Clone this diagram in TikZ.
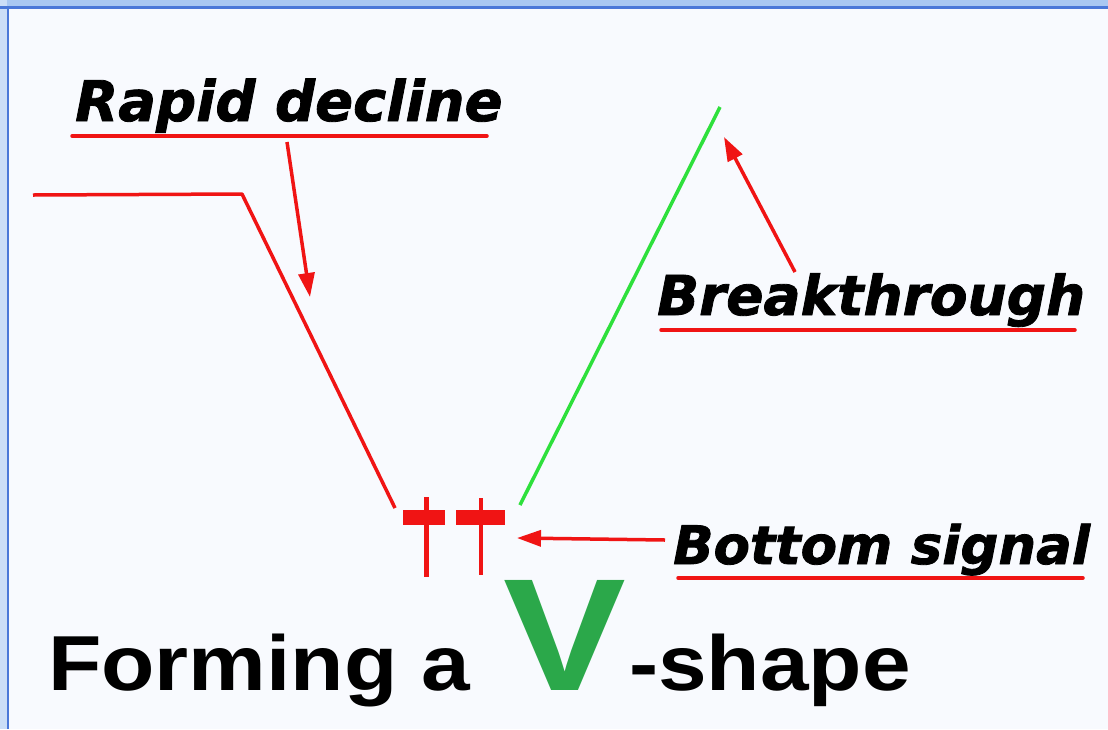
\documentclass[tikz,border=0pt]{standalone}
\usepackage{fontspec}
\usetikzlibrary{arrows.meta}
\newfontfamily\lblfont{DejaVu Sans}[BoldItalicFeatures={FakeBold=1.5}]
\newfontfamily\arialfont{Liberation Sans}
\definecolor{bgc}{HTML}{F8FAFE}
\definecolor{bandc}{HTML}{A9C8F2}
\definecolor{framec}{HTML}{4A78D8}
\definecolor{redc}{HTML}{F01414}
\definecolor{greenc}{HTML}{2EE03C}
\definecolor{vgreen}{HTML}{2BA84A}
\tikzset{
  lbl/.style={inner sep=0pt, anchor=base west, font=\lblfont\bfseries\itshape\fontsize{#1}{#1}\selectfont},
  bigtxt/.style={inner sep=0pt, anchor=base west, font=\arialfont\bfseries\fontsize{78}{78}\selectfont, xscale=1.12},
  uline/.style={draw=redc, line width=3.5pt, line cap=round},
  price/.style={draw=redc, line width=3.5pt},
  rise/.style={draw=greenc, line width=3.5pt},
  pointer/.style={draw=redc, line width=3.5pt, -{Triangle[length=24pt,width=16pt]}},
  body/.style={fill=redc},
  wick/.style={draw=redc, line width=4.5pt}
}
\begin{document}
\begin{tikzpicture}[x=1pt,y=-1pt]
\useasboundingbox (0,0) rectangle (1108,729);
% background and frame
\fill[bgc] (0,0) rectangle (1108,729);
\fill[bandc] (0,0) rectangle (1108,6.5);
\fill[bandc!60!white] (0,0) rectangle (7,729);
\fill[framec] (0,6) rectangle (1108,8.5);
\fill[framec] (6.5,6) rectangle (8.5,729);
% texts
\node[lbl=56] (rapid) at (75,121) {Rapid decline};
\node[lbl=55] (brk) at (657,315) {Breakthrough};
\node[lbl=53] (bot) at (673,564) {Bottom signal};
\node[bigtxt] (forming) at (48,690) {Forming a};
\node[inner sep=0pt, anchor=base west, font=\arialfont\bfseries\fontsize{160}{160}\selectfont, text=vgreen, xscale=1.15] (vlet) at (503,690) {V};
\node[bigtxt] (shape) at (629,690) {-shape};
% underlines
\coordinate (r1) at (72,136); \coordinate (r2) at (487,136);
\coordinate (b1) at (661,330); \coordinate (b2) at (1075,330);
\coordinate (s1) at (678,578); \coordinate (s2) at (1083,578);
\draw[uline] (r1) -- (r2);
\draw[uline] (b1) -- (b2);
\draw[uline] (s1) -- (s2);
% price path
\coordinate (p0) at (33,195);
\coordinate (p1) at (242,194);
\coordinate (p2) at (395,508);
\coordinate (g0) at (520,505);
\coordinate (g1) at (720,107);
\draw[price, line join=round] (p0) -- (p1) -- (p2);
\draw[rise] (g0) -- (g1);
% candles
\draw[wick] (426.5,497) -- (426.5,577);
\fill[body] (403,510) rectangle (445,525);
\draw[wick] (481,498) -- (481,575);
\fill[body] (456,510) rectangle (505,525);
% arrows
\coordinate (ra) at (287,142);
\coordinate (rb) at (310,297);
\draw[pointer] (ra) -- (rb);
\coordinate (ba) at (795,272);
\coordinate (bb) at (724,137);
\draw[pointer] (ba) -- (bb);
\coordinate (sa) at (665,540);
\coordinate (sb) at (517,538);
\draw[pointer] (sa) -- (sb);
\end{tikzpicture}
\end{document}
